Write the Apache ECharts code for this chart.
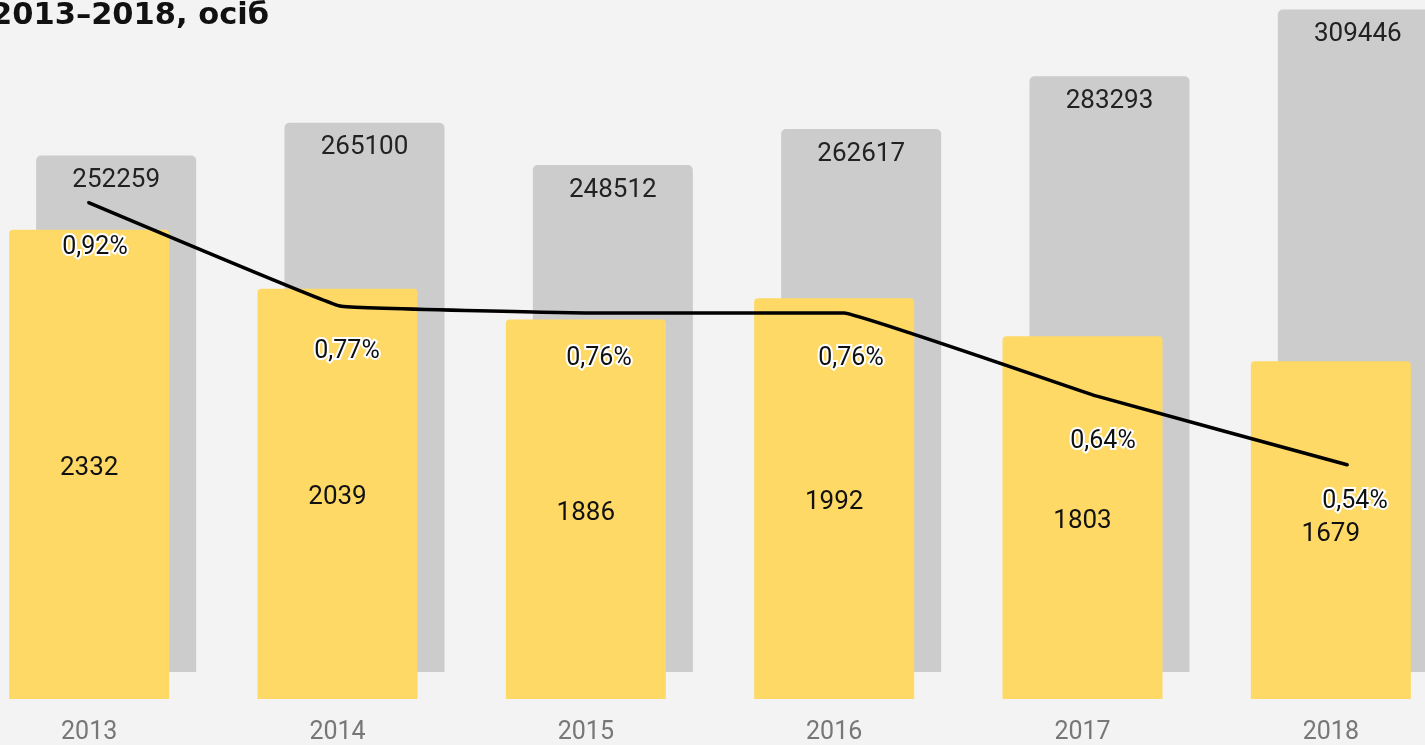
<!DOCTYPE html>
<html>
<head>
<meta charset="utf-8">
<script src="https://cdn.jsdelivr.net/npm/echarts@6/dist/echarts.min.js"></script>
<style>
  html, body { margin: 0; padding: 0; background: #f3f3f3; }
  #myChart { width: 1425px; height: 745px; }
</style>
</head>
<body>
<div id="myChart"></div>
<script>
const years = ["2013", "2014", "2015", "2016", "2017", "2018"];
const totalPeople = [252259, 265100, 248512, 262617, 283293, 309446];
const countPeople = [2332, 2039, 1886, 1992, 1803, 1679];
const sharePct = [0.92, 0.77, 0.76, 0.76, 0.64, 0.54];

const font = "Roboto";
let myChart = echarts.init(document.getElementById("myChart"));

// last share label sits closer to the line in the original
const shareData = sharePct.map((v, i) =>
  i === sharePct.length - 1 ? { value: v, label: { distance: 23 } } : v
);

const option = {
  backgroundColor: "#f3f3f3",
  animation: false,
  graphic: [
    {
      type: "text",
      left: -9,
      top: 1,
      style: {
        text: "2013–2018, осіб",
        font: "bold 30.5px 'DejaVu Sans'",
        fill: "#111"
      }
    }
  ],
  grid: [
    // yellow bars
    { left: -35, right: -30, top: 35, bottom: 46, outerBoundsMode: "none" },
    // grey bars, shifted right and up
    { left: -8, right: -57, top: 8, bottom: 73, outerBoundsMode: "none" },
    // share line
    { left: 88, right: 77, top: 147, bottom: 114, outerBoundsMode: "none" }
  ],
  xAxis: [
    {
      type: "category",
      gridIndex: 0,
      data: years,
      axisLine: { show: false },
      axisTick: { show: false },
      axisLabel: { color: "#777", fontSize: 25, fontFamily: font, margin: 21 }
    },
    { type: "category", gridIndex: 1, data: years, show: false },
    { type: "category", gridIndex: 2, data: years, show: false, boundaryGap: false }
  ],
  yAxis: [
    { type: "value", gridIndex: 0, min: 0, max: 3300, show: false, splitLine: { show: false } },
    { type: "value", gridIndex: 1, min: 50000, max: 310000, show: false, splitLine: { show: false } },
    { type: "value", gridIndex: 2, min: 0.3, max: 1.0, show: false, splitLine: { show: false } }
  ],
  series: [
    {
      name: "Усього",
      type: "bar",
      xAxisIndex: 1,
      yAxisIndex: 1,
      data: totalPeople,
      barWidth: 160,
      z: 1,
      itemStyle: { color: "#cccccc", borderRadius: [5, 5, 0, 0] },
      label: {
        show: true,
        position: "insideTop",
        distance: 12,
        color: "#222",
        fontSize: 26,
        fontFamily: font
      }
    },
    {
      name: "Кількість",
      type: "bar",
      xAxisIndex: 0,
      yAxisIndex: 0,
      data: countPeople,
      barWidth: 160,
      z: 2,
      itemStyle: { color: "#fed966", borderRadius: [4, 4, 0, 0] },
      label: {
        show: true,
        position: "inside",
        offset: [0, 4],
        color: "#111",
        fontSize: 26,
        fontFamily: font
      }
    },
    {
      name: "Частка",
      type: "line",
      xAxisIndex: 2,
      yAxisIndex: 2,
      data: shareData,
      z: 5,
      symbol: "circle",
      symbolSize: 2,
      showSymbol: true,
      itemStyle: { color: "#000" },
      smooth: 0.05,
      lineStyle: { color: "#000", width: 3.5 },
      label: {
        show: true,
        position: "bottom",
        distance: 32,
        offset: [7, 0],
        color: "#111",
        fontSize: 25,
        fontFamily: font,
        textBorderColor: "#fff",
        textBorderWidth: 4,
        formatter: p => p.value.toFixed(2).replace(".", ",") + "%"
      }
    }
  ]
};
myChart.setOption(option, true);
</script>
</body>
</html>
